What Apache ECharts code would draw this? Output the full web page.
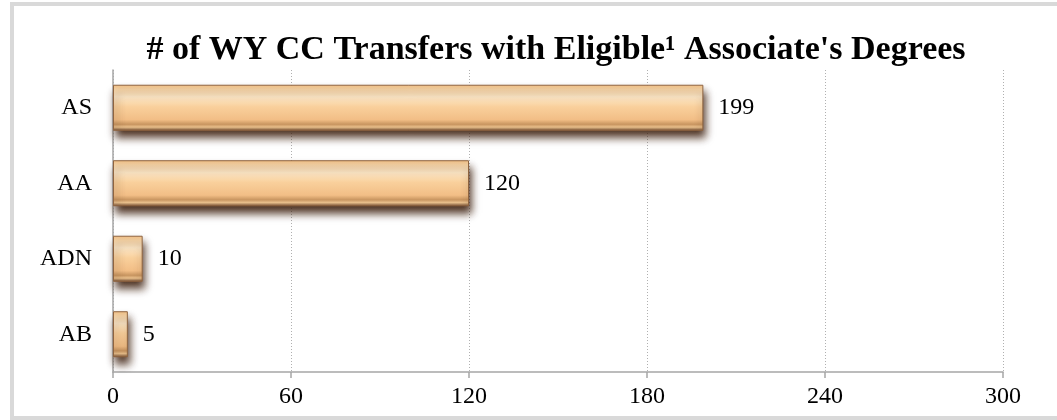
<!DOCTYPE html>
<html>
<head>
<meta charset="utf-8">
<script src="https://cdn.jsdelivr.net/npm/echarts@6/dist/echarts.min.js"></script>
<style>
html,body{margin:0;padding:0;background:#fff;}
#chart{width:1057px;height:420px;}
</style>
</head>
<body>
<div id="chart"></div>
<script>
const categories = ['AB', 'ADN', 'AA', 'AS'];
const values = [5, 10, 120, 199];
const xTicks = [0, 60, 120, 180, 240, 300];
const titleText = "# of WY CC Transfers with Eligible¹ Associate's Degrees";

const FONT = "'Liberation Serif', 'DejaVu Serif', serif";
const chart = echarts.init(document.getElementById('chart'), null, {renderer: 'canvas'});

const barFill = new echarts.graphic.LinearGradient(0, 0, 0, 1, [
  {offset: 0, color: '#f3c085'},
  {offset: 0.1, color: '#fad8aa'},
  {offset: 0.26, color: '#fde8c8'},
  {offset: 0.48, color: '#f9d09c'},
  {offset: 0.76, color: '#f2be86'},
  {offset: 0.86, color: '#c89560'},
  {offset: 0.92, color: '#eac08c'},
  {offset: 1, color: '#6e4a30'}
]);

chart.setOption({
  animation: false,
  title: {
    text: titleText,
    left: 551, top: 28, textAlign: 'center',
    textStyle: {fontFamily: FONT, fontWeight: 'bold', fontSize: 34, color: '#000'}
  },
  graphic: [{
    type: 'polyline',
    shape: {points: [[12, 420], [12, 4], [1060, 4]]},
    style: {stroke: '#d9d9d9', lineWidth: 4, fill: null},
    silent: true
  }, {
    type: 'line',
    shape: {x1: 10, y1: 418, x2: 1060, y2: 418},
    style: {stroke: '#d9d9d9', lineWidth: 4},
    silent: true
  }],
  grid: {left: 113, right: 54, top: 70, bottom: 48, containLabel: false},
  xAxis: {
    type: 'value', min: xTicks[0], max: xTicks[xTicks.length - 1], interval: 60,
    axisLine: {show: true, lineStyle: {color: '#a6a6a6', width: 1.5}},
    axisTick: {show: true, length: 6, lineStyle: {color: '#a6a6a6', width: 1.5}},
    axisLabel: {fontFamily: FONT, fontSize: 24, color: '#000', margin: 13},
    splitLine: {show: true, lineStyle: {color: '#b0b0b0', type: [1, 2], width: 1}}
  },
  yAxis: {
    type: 'category', data: categories,
    axisLine: {show: true, lineStyle: {color: '#a6a6a6', width: 1.5}},
    axisTick: {show: false},
    axisLabel: {fontFamily: FONT, fontSize: 24, color: '#000', margin: 21}
  },
  series: [{
    type: 'bar',
    data: values,
    barWidth: '61%',
    itemStyle: {
      color: barFill,
      borderColor: '#8f6440',
      borderWidth: 1,
      shadowColor: 'rgba(60,30,12,0.9)',
      shadowBlur: 8,
      shadowOffsetX: 2,
      shadowOffsetY: 7
    },
    label: {
      show: true, position: 'right', distance: 15,
      fontFamily: FONT, fontSize: 24, color: '#000'
    }
  }]
});
</script>
</body>
</html>
